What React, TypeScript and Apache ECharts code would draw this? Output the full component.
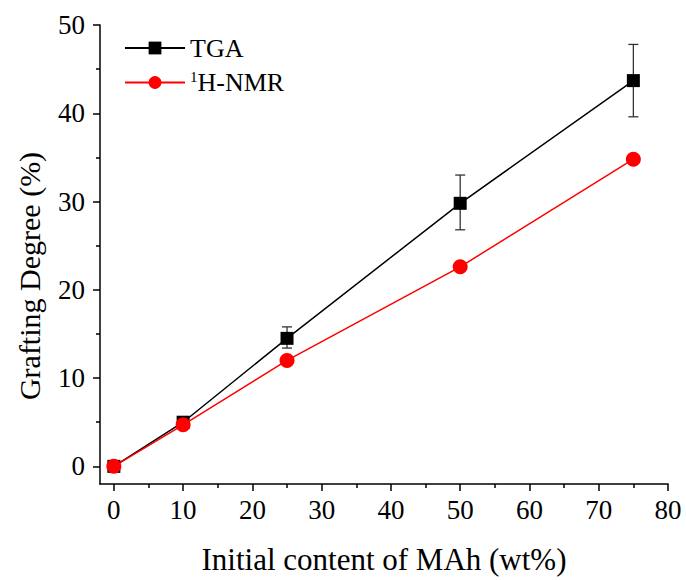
import React, { useEffect, useRef } from "react";
import * as echarts from "echarts";

const xValues = [0, 10, 25, 50, 75];
const tgaValues = [0, 5.0, 14.5, 29.8, 43.7];
const tgaErrLow = [0, 4.6, 13.4, 26.8, 39.6];
const tgaErrHigh = [0, 5.4, 15.8, 33.0, 47.8];
const nmrValues = [0, 4.7, 12.0, 22.6, 34.8];
const xTicks = [0, 10, 20, 30, 40, 50, 60, 70, 80];
const xMinorTicks = [5, 15, 25, 35, 45, 55, 65, 75];
const yTicks = [0, 10, 20, 30, 40, 50];
const yMinorTicks = [5, 15, 25, 35, 45];
const xTitle = "Initial content of MAh (wt%)";
const yTitle = "Grafting Degree (%)";

const FONT = "'Liberation Serif', 'Times New Roman', serif";

export default function App() {
  const ref = useRef<HTMLDivElement>(null);
  useEffect(() => {
    document.body.style.margin = "0";
    const chart = echarts.init(ref.current!, null, { renderer: "svg" });
    const tickStyle = { color: "#000", width: 1.5 };
    chart.setOption({
      animation: false,
      backgroundColor: "#fff",
      grid: { left: 100, right: 18, top: 25, bottom: 93 },
      graphic: [
        {
          type: "text",
          x: 29,
          y: 276,
          rotation: Math.PI / 2,
          style: {
            text: yTitle,
            font: "30px 'Liberation Serif', 'Times New Roman', serif",
            fill: "#000",
            align: "center",
            verticalAlign: "middle",
          },
        },
      ],
      legend: {
        orient: "vertical",
        left: 119,
        top: 30,
        itemWidth: 60,
        itemHeight: 16,
        itemGap: 8,
        data: ["TGA", "1H-NMR"],
        formatter: (name: string) =>
          name === "TGA" ? "{n|TGA}" : "{s|1}{n|H-NMR}",
        textStyle: {
          rich: {
            n: { fontFamily: FONT, fontSize: 26, color: "#000" },
            s: { fontFamily: FONT, fontSize: 15, color: "#000", padding: [0, 0, 12, 0] },
          },
        },
      },
      xAxis: [
        {
          type: "value",
          min: -2,
          max: 80,
          splitLine: { show: false },
          axisLine: { show: true, onZero: false, lineStyle: { color: "#000", width: 1.5 } },
          name: xTitle,
          nameLocation: "middle",
          nameGap: 60,
          nameTextStyle: { fontFamily: FONT, fontSize: 31, color: "#000" },
          axisTick: { show: true, inside: false, length: 7, customValues: xTicks, lineStyle: tickStyle },
          axisLabel: { customValues: xTicks, margin: 12, fontFamily: FONT, fontSize: 27, color: "#000" },
        },
        {
          type: "value",
          position: "bottom",
          min: -2,
          max: 80,
          splitLine: { show: false },
          axisLine: { show: false, onZero: false },
          axisTick: { show: true, inside: false, length: 4, customValues: xMinorTicks, lineStyle: tickStyle },
          axisLabel: { show: false },
        },
      ],
      yAxis: [
        {
          type: "value",
          min: -2,
          max: 50,
          splitLine: { show: false },
          axisLine: { show: true, onZero: false, lineStyle: { color: "#000", width: 1.5 } },
          axisTick: { show: true, inside: false, length: 7, customValues: yTicks, lineStyle: tickStyle },
          axisLabel: { customValues: yTicks, margin: 15, fontFamily: FONT, fontSize: 27, color: "#000" },
        },
        {
          type: "value",
          position: "left",
          min: -2,
          max: 50,
          splitLine: { show: false },
          axisLine: { show: false, onZero: false },
          axisTick: { show: true, inside: false, length: 4, customValues: yMinorTicks, lineStyle: tickStyle },
          axisLabel: { show: false },
        },
      ],
      series: [
        {
          name: "err",
          type: "custom",
          z: 1,
          data: xValues.map((x, i) => [x, tgaErrLow[i], tgaErrHigh[i]]),
          encode: { x: 0, y: [1, 2] },
          renderItem: (params: any, api: any) => {
            const x = api.value(0);
            const lo = api.coord([x, api.value(1)]);
            const hi = api.coord([x, api.value(2)]);
            const w = 5;
            const style = { stroke: "#333", lineWidth: 1.3 };
            return {
              type: "group",
              children: [
                { type: "line", shape: { x1: lo[0], y1: lo[1], x2: hi[0], y2: hi[1] }, style },
                { type: "line", shape: { x1: lo[0] - w, y1: lo[1], x2: lo[0] + w, y2: lo[1] }, style },
                { type: "line", shape: { x1: hi[0] - w, y1: hi[1], x2: hi[0] + w, y2: hi[1] }, style },
              ],
            };
          },
        },
        {
          name: "TGA",
          type: "line",
          z: 3,
          data: xValues.map((x, i) => [x, tgaValues[i]]),
          symbol: "rect",
          symbolSize: 13,
          itemStyle: { color: "#000" },
          lineStyle: { color: "#000", width: 1.5 },
        },
        {
          name: "1H-NMR",
          type: "line",
          z: 4,
          data: xValues.map((x, i) => [x, nmrValues[i]]),
          symbol: "circle",
          symbolSize: 15,
          itemStyle: { color: "#ff0000" },
          lineStyle: { color: "#ff0000", width: 1.5 },
        },
      ],
    });
    return () => chart.dispose();
  }, []);
  return <div ref={ref} style={{ width: 686, height: 580 }} />;
}
